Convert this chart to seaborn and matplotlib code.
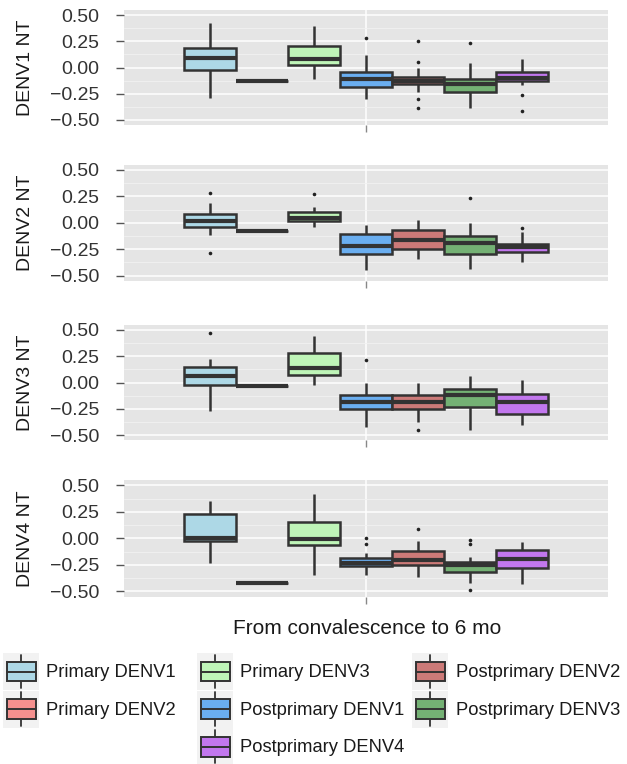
import numpy as np
import pandas as pd
import matplotlib
matplotlib.use("Agg")
import matplotlib.pyplot as plt
import seaborn as sns
from matplotlib.patches import Rectangle, Patch
from matplotlib.lines import Line2D
from matplotlib.legend_handler import HandlerBase
from matplotlib.ticker import FixedLocator, FuncFormatter

# ---------------- data ----------------
groups = ["Primary DENV1", "Primary DENV2", "Primary DENV3",
          "Postprimary DENV1", "Postprimary DENV2", "Postprimary DENV3",
          "Postprimary DENV4"]
colors = ["#ADD8E6", "#F4908E", "#BFF5B8", "#6AAEF0", "#CC7A78", "#74B174", "#C277EE"]
panel_labels = ["DENV1 NT", "DENV2 NT", "DENV3 NT", "DENV4 NT"]
period = "From convalescence to 6 mo"
y_ticks = [-0.50, -0.25, 0.00, 0.25, 0.50]

# DENV1 NT panel: lower whisker, Q1, median, Q3, upper whisker, outliers
denv1_low = [-0.29, -0.13, -0.105, -0.30, -0.23, -0.39, -0.17]
denv1_q1 = [-0.02, -0.13, 0.02, -0.19, -0.16, -0.237, -0.125]
denv1_med = [0.09, -0.13, 0.08, -0.11, -0.125, -0.155, -0.098]
denv1_q3 = [0.19, -0.13, 0.205, -0.04, -0.09, -0.105, -0.04]
denv1_high = [0.42, -0.13, 0.40, 0.12, 0.0, 0.04, 0.08]
denv1_out = [[], [], [], [0.28], [0.25, 0.05, -0.30, -0.385], [0.235], [-0.26, -0.41]]

# DENV2 NT panel
denv2_low = [-0.114, -0.076, -0.035, -0.445, -0.338, -0.438, -0.366]
denv2_q1 = [-0.035, -0.076, 0.016, -0.29, -0.246, -0.29, -0.278]
denv2_med = [0.013, -0.076, 0.045, -0.218, -0.16, -0.192, -0.232]
denv2_q3 = [0.082, -0.076, 0.104, -0.11, -0.063, -0.12, -0.199]
denv2_high = [0.186, -0.076, 0.148, -0.02, 0.03, -0.003, -0.091]
denv2_out = [[0.287, -0.287], [], [0.27], [], [], [0.233], [-0.044]]

# DENV3 NT panel
denv3_low = [-0.267, -0.038, -0.02, -0.425, -0.375, -0.45, -0.40]
denv3_q1 = [-0.025, -0.038, 0.076, -0.25, -0.25, -0.235, -0.298]
denv3_med = [0.06, -0.038, 0.14, -0.183, -0.185, -0.117, -0.19]
denv3_q3 = [0.146, -0.038, 0.28, -0.12, -0.12, -0.06, -0.114]
denv3_high = [0.225, -0.038, 0.44, -0.006, -0.003, 0.06, 0.025]
denv3_out = [[0.473], [], [], [0.219], [-0.457], [], []]

# DENV4 NT panel
denv4_low = [-0.236, -0.42, -0.343, -0.35, -0.368, -0.425, -0.43]
denv4_q1 = [-0.028, -0.42, -0.06, -0.265, -0.25, -0.315, -0.28]
denv4_med = [0.0, -0.42, -0.006, -0.23, -0.2, -0.255, -0.195]
denv4_q3 = [0.23, -0.42, 0.15, -0.19, -0.12, -0.22, -0.107]
denv4_high = [0.355, -0.42, 0.42, -0.138, -0.022, -0.176, -0.038]
denv4_out = [[], [], [], [0.0, -0.05], [0.085], [-0.016, -0.057, -0.484], []]

panels = [
    (denv1_low, denv1_q1, denv1_med, denv1_q3, denv1_high, denv1_out),
    (denv2_low, denv2_q1, denv2_med, denv2_q3, denv2_high, denv2_out),
    (denv3_low, denv3_q1, denv3_med, denv3_q3, denv3_high, denv3_out),
    (denv4_low, denv4_q1, denv4_med, denv4_q3, denv4_high, denv4_out),
]


def sample_from_summary(lo, q1, med, q3, hi, outs, reps=20):
    """Observations whose box statistics equal the read summary values."""
    return list(outs) + [lo, hi] + [q1] * reps + [med] * reps + [q3] * reps


def panel_frame(p):
    rows = []
    lo, q1, med, q3, hi, outs = p
    for i, g in enumerate(groups):
        for v in sample_from_summary(lo[i], q1[i], med[i], q3[i], hi[i], outs[i]):
            rows.append({"period": "", "group": g, "value": v})
    return pd.DataFrame(rows)


# ---------------- style ----------------
sns.set_theme(style="darkgrid", rc={"axes.facecolor": "#E5E5E5", "grid.color": "white"})
plt.rcParams["font.family"] = ["Liberation Sans", "DejaVu Sans"]

EDGE = "#333333"
W, H = 627, 764
fig = plt.figure(figsize=(W / 100, H / 100), dpi=100)
left_px, right_px = 124, 608
panel_px = [(9.75, 125.25), (164.7, 281.0), (324.75, 440.25), (480.0, 596.6)]

fmt = FuncFormatter(lambda v, pos: f"{v:.2f}".replace("-", "\u2212"))

for k, p in enumerate(panels):
    top, bot = panel_px[k]
    ax = fig.add_axes([left_px / W, 1 - bot / H, (right_px - left_px) / W, (bot - top) / H])
    df = panel_frame(p)
    sns.boxplot(data=df, x="period", y="value", hue="group", hue_order=groups,
                palette=colors, saturation=1, width=0.9, dodge=True, gap=0,
                linecolor=EDGE, linewidth=1.8, whis=1.5, showcaps=False,
                medianprops=dict(linewidth=3.0, solid_capstyle="butt"),
                flierprops=dict(marker="o", markersize=2.6, markerfacecolor="#222222",
                                markeredgecolor="none"),
                legend=False, ax=ax)
    ax.set_xlim(-0.6, 0.6)
    ax.set_ylim(-0.55, 0.55)
    ax.set_yticks(y_ticks)
    ax.yaxis.set_major_formatter(fmt)
    ax.yaxis.set_minor_locator(FixedLocator([-0.375, -0.125, 0.125, 0.375]))
    ax.set_xticks([0])
    ax.set_xticklabels([""])
    ax.grid(which="major", axis="both", color="white", linewidth=1.1)
    ax.grid(which="minor", axis="y", color="#F2F2F2", linewidth=0.6)
    ax.set_axisbelow(True)
    for s in ax.spines.values():
        s.set_visible(False)
    ax.tick_params(axis="y", which="major", left=True, length=6, width=1.0, color="#555555",
                   pad=12, labelsize=14, labelcolor="#333333")
    ax.tick_params(axis="x", which="major", bottom=True, length=5, width=1.0, color="#888888")
    ax.tick_params(which="minor", length=0)
    ax.set_xlabel("")
    ax.set_ylabel(panel_labels[k], fontsize=14, color="#1a1a1a")
    ax.yaxis.set_label_coords(-0.185, 0.5)

fig.text(367 / W, 1 - 628 / H, period, ha="center", va="center", fontsize=15, color="#1a1a1a")


# ---------------- legend ----------------
class BoxKeyHandler(HandlerBase):
    def create_artists(self, legend, orig_handle, xdescent, ydescent, width, height,
                       fontsize, trans):
        x0, y0 = -xdescent, -ydescent
        fc = orig_handle.get_facecolor()
        bg = Rectangle((x0, y0), width, height, facecolor="#F2F2F2", edgecolor="none",
                       transform=trans)
        cx = x0 + width / 2
        wl = Line2D([cx, cx], [y0 + 0.05 * height, y0 + 0.95 * height], color=EDGE,
                    linewidth=1.3, transform=trans)
        box = Rectangle((x0 + 0.11 * width, y0 + 0.23 * height), 0.81 * width, 0.54 * height,
                        facecolor=fc, edgecolor=EDGE, linewidth=1.4, transform=trans)
        med = Line2D([x0 + 0.11 * width, x0 + 0.92 * width], [y0 + 0.5 * height] * 2,
                     color=EDGE, linewidth=1.4, transform=trans)
        return [bg, wl, box, med]


handles = {g: Patch(facecolor=c, edgecolor=EDGE, label=g) for g, c in zip(groups, colors)}
legend_cols = [
    (3, ["Primary DENV1", "Primary DENV2"]),
    (197, ["Primary DENV3", "Postprimary DENV1", "Postprimary DENV4"]),
    (412, ["Postprimary DENV2", "Postprimary DENV3"]),
]
fs = 13.2
fs_px = fs * 100 / 72
area_h = 37.0
hh = (area_h / fs_px - 0.245) / 0.65
for xpx, names in legend_cols:
    fig.legend(handles=[handles[n] for n in names], labels=names,
               loc="upper left", bbox_to_anchor=(xpx / W, 1 - 653 / H),
               frameon=False, borderpad=0, borderaxespad=0,
               handlelength=36 / fs_px, handleheight=hh, handletextpad=7.5 / fs_px,
               labelspacing=0.6 / fs_px, fontsize=fs, labelcolor="#1a1a1a",
               handler_map={Patch: BoxKeyHandler()})

fig.savefig("out.png", dpi=100)
